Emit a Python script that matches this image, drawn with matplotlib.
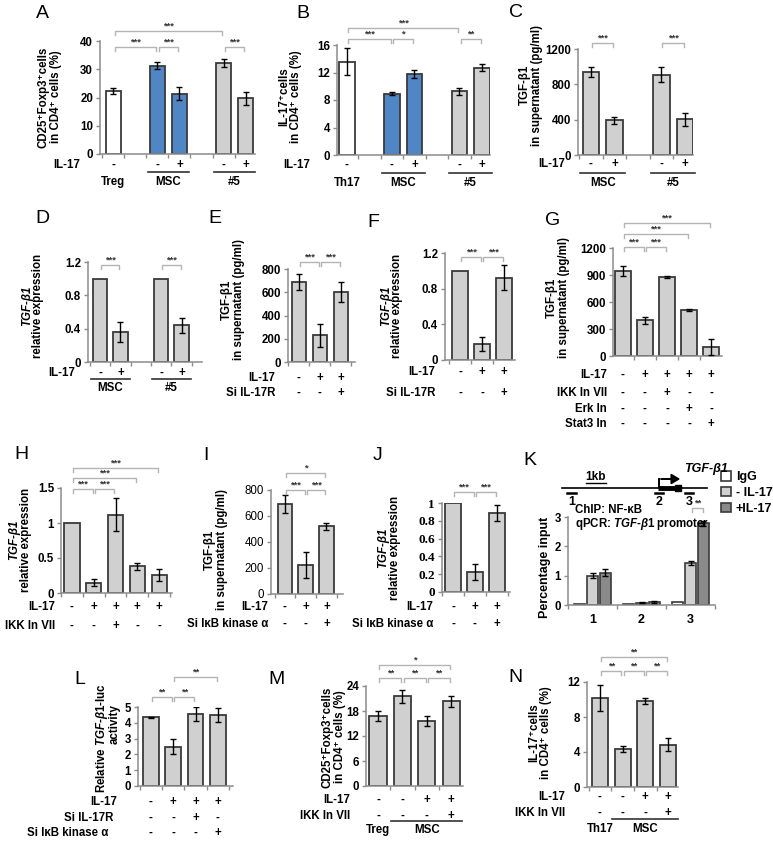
import numpy as np
import matplotlib.pyplot as plt
import matplotlib.transforms as mtransforms
from matplotlib.lines import Line2D

plt.rcParams['font.family'] = ['Liberation Sans', 'DejaVu Sans']
plt.rcParams['font.weight'] = 'bold'
plt.rcParams['mathtext.fontset'] = 'custom'
plt.rcParams['mathtext.rm'] = 'Liberation Sans:bold'
plt.rcParams['mathtext.it'] = 'Liberation Sans:italic:bold'
plt.rcParams['mathtext.bf'] = 'Liberation Sans:bold'

# ---------------- data ----------------
a_vals = [22.3, 31.3, 21.3, 32.3, 19.7]
a_errs = [1.0, 1.2, 2.3, 1.5, 2.2]
b_vals = [13.6, 8.9, 11.8, 9.3, 12.7]
b_errs = [2.0, 0.2, 0.6, 0.5, 0.5]
ab_il17 = ['-', '-', '+', '-', '+']

c_vals = [940, 395, 910, 405]
c_errs = [60, 40, 85, 75]
d_vals = [1.0, 0.36, 1.0, 0.44]
d_errs = [0, 0.12, 0, 0.09]
cd_il17 = ['-', '+', '-', '+']

e_vals = [690, 230, 600]
e_errs = [70, 100, 85]
f_vals = [1.0, 0.18, 0.92]
f_errs = [0, 0.08, 0.14]
ef_il17 = ['-', '+', '+']
ef_si17r = ['-', '-', '+']

g_vals = [945, 395, 875, 510, 100]
g_errs = [60, 40, 12, 8, 85]
g_il17 = ['-', '+', '+', '+', '+']
g_ikk = ['-', '-', '+', '-', '-']
g_erk = ['-', '-', '-', '+', '-']
g_stat3 = ['-', '-', '-', '-', '+']

h_vals = [1.0, 0.15, 1.12, 0.38, 0.26]
h_errs = [0, 0.05, 0.24, 0.05, 0.09]

i_vals = [690, 225, 520]
i_errs = [70, 100, 25]
j_vals = [1.0, 0.23, 0.89]
j_errs = [0, 0.09, 0.09]
ij_il17 = ['-', '+', '+']
ij_sikb = ['-', '-', '+']

k_sites = ['1', '2', '3']
k_igg = [0.05, 0.05, 0.1]
k_minus = [1.0, 0.08, 1.42]
k_minus_err = [0.08, 0.02, 0.07]
k_plus = [1.1, 0.1, 2.78]
k_plus_err = [0.12, 0.03, 0.1]

l_vals = [4.35, 2.5, 4.55, 4.5]
l_errs = [0.03, 0.45, 0.42, 0.45]
l_il17 = ['-', '+', '+', '+']
l_si17r = ['-', '-', '+', '-']
l_sikb = ['-', '-', '-', '+']

m_vals = [16.8, 21.5, 15.7, 20.3]
m_errs = [1.2, 1.5, 1.2, 1.4]
n_vals = [10.2, 4.3, 9.85, 4.85]
n_errs = [1.5, 0.35, 0.35, 0.7]
mn_il17 = ['-', '-', '+', '+']
mn_ikk = ['-', '-', '-', '+']

# ---------------- style ----------------
W, H = 773, 841
GRAY = '#d0d0d0'
BLUE = '#4f86c6'
DARK = '#8a8a8a'
EDGE = '#3a3a3a'
AXC = '#8c8c8c'
BRC = '#b4b4b4'
FS = 8.3

fig = plt.figure(figsize=(W / 100, H / 100), dpi=100)
ov = fig.add_axes([0, 0, 1, 1], zorder=10)
ov.set_xlim(0, W)
ov.set_ylim(H, 0)
ov.axis('off')


def make_ax(box, xlim, ylim, yticks, ytl=None):
    x0, x1, yt, yb = box
    ax = fig.add_axes([x0 / W, 1 - yb / H, (x1 - x0) / W, (yb - yt) / H])
    ax.set_facecolor('none')
    ax.set_xlim(*xlim)
    ax.set_ylim(*ylim)
    for s in ('top', 'right'):
        ax.spines[s].set_visible(False)
    for s in ('left', 'bottom'):
        ax.spines[s].set_color(AXC)
        ax.spines[s].set_linewidth(1.1)
    ax.set_yticks(yticks)
    if ytl is not None:
        ax.set_yticklabels(ytl)
    bounds = np.arange(np.ceil(xlim[0] - 0.5) + 0.5, xlim[1], 1.0)
    ax.set_xticks(bounds)
    ax.set_xticklabels([])
    ax.tick_params(axis='both', direction='out', length=3, width=1,
                   color=AXC, labelsize=8.3, pad=2)
    return ax


def draw_bars(ax, pos, vals, errs, colors, width=0.7):
    pos = np.asarray(pos, dtype=float)
    ax.bar(pos, vals, width, color=colors, edgecolor=EDGE, linewidth=1.3, zorder=2)
    e = np.asarray(errs, dtype=float)
    m = e > 0
    ax.errorbar(pos[m], np.asarray(vals, dtype=float)[m], yerr=e[m], fmt='none',
                ecolor='black', elinewidth=1, capsize=2.5, capthick=1, zorder=3)


def tr_of(ax):
    return mtransforms.blended_transform_factory(ax.transData, ov.transData)


def bracket(ax, xa, xb, y, label):
    tr = tr_of(ax)
    ov.add_line(Line2D([xa + 0.05, xa + 0.05, xb - 0.05, xb - 0.05], [y + 4, y, y, y + 4],
                       transform=tr, color=BRC, lw=1))
    ov.text((xa + xb) / 2, y - 0.5, label, transform=tr, ha='center', va='bottom',
            fontsize=6.8, color='#333333')


def row(ax, pos, syms, y, label, xlab):
    tr = tr_of(ax)
    for p, s in zip(pos, syms):
        ov.text(p, y, s, transform=tr, ha='center', va='center', fontsize=FS)
    ov.text(xlab, y, label, ha='right', va='center', fontsize=FS)


def group(ax, p0, p1, uy, ty, label, line=True):
    tr = tr_of(ax)
    if line:
        ov.add_line(Line2D([p0 - 0.45, p1 + 0.45], [uy, uy], transform=tr, color='#333333', lw=1.2))
    ov.text((p0 + p1) / 2, ty, label, transform=tr, ha='center', va='center', fontsize=FS)


def ylab(x, y, text, style='normal', size=FS):
    ov.text(x, y, text, rotation=90, ha='center', va='center', fontsize=size,
            multialignment='center', linespacing=1.05, style=style)


def letter(x, y, s):
    ov.text(x, y, s, ha='center', va='center', fontsize=14, fontweight='normal')


# ---------------- A ----------------
pa = [0, 2, 3, 5, 6]
axA = make_ax((100, 255, 41, 154), (-0.61, 6.43), (0, 40), [0, 10, 20, 30, 40])
draw_bars(axA, pa, a_vals, a_errs, ['white', BLUE, BLUE, GRAY, GRAY])
bracket(axA, 0, 2, 47, '***'); bracket(axA, 2, 3, 47, '***')
bracket(axA, 0, 5, 31, '***'); bracket(axA, 5, 6, 47, '***')
row(axA, pa, ab_il17, 165, 'IL-17', 80)
group(axA, 0, 0, 172, 182, 'Treg', line=False)
group(axA, 2, 3, 172, 182, 'MSC'); group(axA, 5, 6, 172, 182, '#5')
ylab(50, 97, 'CD25\u207aFoxp3\u207acells\nin CD4\u207a cells (%)')
letter(42, 13, 'A')

# ---------------- B ----------------
axB = make_ax((337, 490, 45, 155), (-0.44, 6.36), (0, 16), [0, 4, 8, 12, 16])
draw_bars(axB, pa, b_vals, b_errs, ['white', BLUE, BLUE, GRAY, GRAY])
bracket(axB, 0, 2, 39, '***'); bracket(axB, 2, 3, 39, '*')
bracket(axB, 0, 5, 28, '***'); bracket(axB, 5, 6, 39, '**')
row(axB, pa, ab_il17, 165, 'IL-17', 310)
group(axB, 0, 0, 173, 183, 'Th17', line=False)
group(axB, 2, 3, 173, 183, 'MSC'); group(axB, 5, 6, 173, 183, '#5')
ylab(290, 97, 'IL-17\u207acells\nin CD4\u207a cells (%)')
letter(303, 13, 'B')

# ---------------- C ----------------
pc = [0, 1, 3, 4]
axC = make_ax((578, 693, 49, 155), (-0.55, 4.35), (0, 1200), [0, 400, 800, 1200])
draw_bars(axC, pc, c_vals, c_errs, GRAY)
bracket(axC, 0, 1, 43, '***'); bracket(axC, 3, 4, 43, '***')
row(axC, pc, cd_il17, 164, 'IL-17', 565)
group(axC, 0, 1, 173, 183, 'MSC'); group(axC, 3, 4, 173, 183, '#5')
ylab(531, 85, 'TGF-\u03b21\nin supernatant (pg/ml)')
letter(516, 12, 'C')

# ---------------- D ----------------
axD = make_ax((88, 202, 262, 362), (-0.59, 5.0), (0, 1.2), [0, 0.4, 0.8, 1.2],
              ['0', '0.4', '0.8', '1.2'])
draw_bars(axD, pc, d_vals, d_errs, GRAY)
bracket(axD, 0, 1, 265, '***'); bracket(axD, 3, 4, 265, '***')
row(axD, pc, cd_il17, 373, 'IL-17', 75)
group(axD, 0, 1, 379, 388, 'MSC'); group(axD, 3, 4, 379, 388, '#5')
ylab(27, 306, 'TGF-\u03b21', style='italic')
ylab(38, 306, 'relative expression')
letter(42, 218, 'D')

# ---------------- E ----------------
p3 = [0, 1, 2]
axE = make_ax((288, 355, 269, 362), (-0.52, 2.67), (0, 800), [0, 200, 400, 600, 800])
draw_bars(axE, p3, e_vals, e_errs, GRAY)
bracket(axE, 0, 1, 262, '***'); bracket(axE, 1, 2, 262, '***')
row(axE, p3, ef_il17, 378, 'IL-17', 275)
row(axE, p3, ef_si17r, 393, 'Si IL-17R', 275)
ylab(233, 300, 'TGF-\u03b21\nin supernatant (pg/ml)')
letter(215, 218, 'E')

# ---------------- F ----------------
axF = make_ax((445, 515, 253, 360), (-0.68, 2.5), (0, 1.2), [0, 0.4, 0.8, 1.2],
              ['0', '0.4', '0.8', '1.2'])
draw_bars(axF, p3, f_vals, f_errs, GRAY)
bracket(axF, 0, 1, 257, '***'); bracket(axF, 1, 2, 257, '***')
row(axF, p3, ef_il17, 372, 'IL-17', 435)
row(axF, p3, ef_si17r, 393, 'Si IL-17R', 435)
ylab(386, 306, 'TGF-\u03b21', style='italic')
ylab(397, 306, 'relative expression')
letter(373, 222, 'F')

# ---------------- G ----------------
p5 = [0, 1, 2, 3, 4]
axG = make_ax((613, 722, 248, 356), (-0.45, 4.5), (0, 1200), [0, 300, 600, 900, 1200])
draw_bars(axG, p5, g_vals, g_errs, GRAY)
bracket(axG, 0, 1, 247, '***'); bracket(axG, 1, 2, 247, '***')
bracket(axG, 0, 3, 234, '***'); bracket(axG, 0, 4, 223, '***')
row(axG, p5, g_il17, 375, 'IL-17', 607)
row(axG, p5, g_ikk, 393, 'IKK In VII', 607)
row(axG, p5, g_erk, 409, 'Erk In', 607)
row(axG, p5, g_stat3, 424, 'Stat3 In', 607)
ylab(558, 298, 'TGF-\u03b21\nin supernatant (pg/ml)')
letter(553, 220, 'G')

# ---------------- H ----------------
axH = make_ax((61, 172, 488, 593), (-0.5, 4.59), (0, 1.5), [0, 0.5, 1, 1.5],
              ['0', '0.5', '1', '1.5'])
draw_bars(axH, p5, h_vals, h_errs, GRAY)
bracket(axH, 0, 1, 489, '***'); bracket(axH, 1, 2, 489, '***')
bracket(axH, 0, 3, 478, '***'); bracket(axH, 0, 4, 468, '***')
row(axH, p5, g_il17, 607, 'IL-17', 55)
row(axH, p5, g_ikk, 626, 'IKK In VII', 55)
ylab(14, 540, 'TGF-\u03b21', style='italic')
ylab(26, 540, 'relative expression')
letter(21, 454, 'H')

# ---------------- I ----------------
axI = make_ax((271, 343, 490, 594), (-0.67, 2.8), (0, 800), [0, 200, 400, 600, 800])
for t in axI.get_yticklabels():
    t.set_fontweight('normal')
draw_bars(axI, p3, i_vals, i_errs, GRAY)
bracket(axI, 0, 1, 490, '***'); bracket(axI, 1, 2, 490, '***')
bracket(axI, 0, 2, 473, '*')
row(axI, p3, ij_il17, 607, 'IL-17', 268)
row(axI, p3, ij_sikb, 624, 'Si I\u03baB kinase \u03b1', 268)
ylab(216, 550, 'TGF-\u03b21\nin supernatant (pg/ml)')
letter(206, 455, 'I')

# ---------------- J ----------------
axJ = make_ax((442, 510, 503, 592), (-0.5, 2.6), (0, 1), [0, 0.2, 0.4, 0.6, 0.8, 1],
              ['0', '0.2', '0.4', '0.6', '0.8', '1'])
for t in axJ.get_yticklabels():
    t.set_fontfamily('Liberation Serif')
    t.set_fontsize(9.5)
draw_bars(axJ, p3, j_vals, j_errs, GRAY)
bracket(axJ, 0, 1, 492, '***'); bracket(axJ, 1, 2, 492, '***')
row(axJ, p3, ij_il17, 607, 'IL-17', 433)
row(axJ, p3, ij_sikb, 624, 'Si I\u03baB kinase \u03b1', 433)
ylab(383, 548, 'TGF-\u03b21', style='italic')
ylab(395, 548, 'relative expression')
letter(378, 455, 'J')

# ---------------- K ----------------
gap = 3.82
kc = np.arange(len(k_sites)) * gap
axK = make_ax((568, 715, 517, 605), (-1.57, 8.93), (0, 3), [0, 1, 2, 3])
axK.set_xticks(np.concatenate([[-gap / 2], kc + gap / 2]))
hb1 = axK.bar(kc - 1, k_igg, 0.85, color='white', edgecolor=EDGE, linewidth=1.2, zorder=2)
hb2 = axK.bar(kc, k_minus, 0.85, color=GRAY, edgecolor=EDGE, linewidth=1.2, zorder=2)
hb3 = axK.bar(kc + 1, k_plus, 0.85, color=DARK, edgecolor=EDGE, linewidth=1.2, zorder=2)
axK.errorbar(kc, k_minus, yerr=k_minus_err, fmt='none', ecolor='black',
             elinewidth=1, capsize=2.5, capthick=1, zorder=3)
axK.errorbar(kc + 1, k_plus, yerr=k_plus_err, fmt='none', ecolor='black',
             elinewidth=1, capsize=2.5, capthick=1, zorder=3)
bracket(axK, kc[2] + 0.1, kc[2] + 1, 508, '**')
for c, s in zip(kc, k_sites):
    ov.text(c, 620, s, transform=tr_of(axK), ha='center', va='center', fontsize=9)
ylab(545, 567, 'Percentage input', size=9)
ov.text(575, 510, 'ChIP: NF-\u03baB', ha='left', va='center', fontsize=8.3)
ov.text(575, 524, r'qPCR: $\mathit{TGF}$-$\mathit{\beta 1}$ promoter', ha='left',
        va='center', fontsize=8.3)
axK.legend([hb1, hb2, hb3], ['IgG', '- IL-17', '+IL-17'], loc='upper left',
           bbox_to_anchor=(716, 466), bbox_transform=ov.transData, frameon=False,
           handlelength=0.8, handleheight=0.8, handletextpad=0.4, labelspacing=0.3,
           borderaxespad=0, prop={'size': 9, 'weight': 'bold'})
# promoter schematic
ov.plot([562, 707], [488, 488], color='black', lw=1.2)
ov.plot([658, 676], [488, 488], color='black', lw=3.5, solid_capstyle='butt')
ov.plot([678], [488], marker='s', ms=5, color='black')
ov.plot([659, 659], [487, 479], color='black', lw=1.4)
ov.annotate('', xy=(683, 479), xytext=(658.3, 479),
            arrowprops=dict(arrowstyle='-|>,head_length=0.5,head_width=0.3', color='black', lw=1.4))
ov.text(684, 469, 'TGF-\u03b21', style='italic', ha='left', va='center', fontsize=9)
ov.text(596, 477, '1kb', ha='center', va='center', fontsize=8.5)
ov.plot([586, 606], [483, 483], color='black', lw=1)
for xa, xb, lab in [(567, 576, '1'), (655, 663, '2'), (685, 693, '3')]:
    ov.plot([xa, xb], [493, 493], color='black', lw=1.8)
    ov.text((xa + xb) / 2, 502, lab, ha='center', va='center', fontsize=9)
letter(530, 460, 'K')

# ---------------- L ----------------
p4 = [0, 1, 2, 3]
axL = make_ax((138, 233, 707, 786), (-0.58, 3.68), (0, 5), [0, 1, 2, 3, 4, 5])
draw_bars(axL, p4, l_vals, l_errs, GRAY)
bracket(axL, 0, 1, 697, '**'); bracket(axL, 1, 2, 697, '**')
bracket(axL, 1, 3, 677, '**')
row(axL, p4, l_il17, 802, 'IL-17', 117)
row(axL, p4, l_si17r, 818, 'Si IL-17R', 113)
row(axL, p4, l_sikb, 833, 'Si I\u03baB kinase \u03b1', 108)
ylab(102, 738, r'Relative $\mathit{TGF}$-$\mathit{\beta 1}$-luc')
ylab(115, 724, 'activity')
letter(80, 680, 'L')

# ---------------- M ----------------
axM = make_ax((366, 463, 686, 786), (-0.49, 3.48), (0, 24), [0, 6, 12, 18, 24])
draw_bars(axM, p4, m_vals, m_errs, GRAY)
bracket(axM, 0, 1, 678, '**'); bracket(axM, 1, 2, 678, '**'); bracket(axM, 2, 3, 678, '**')
bracket(axM, 0, 3, 665, '*')
row(axM, p4, mn_il17, 800, 'IL-17', 350)
row(axM, p4, mn_ikk, 816, 'IKK In VII', 350)
group(axM, 0, 0, 821, 830, 'Treg', line=False)
group(axM, 1, 3, 821, 830, 'MSC')
ylab(334, 737, 'CD25\u207aFoxp3\u207acells\nin CD4\u207a cells (%)')
letter(277, 680, 'M')

# ---------------- N ----------------
axN = make_ax((587, 678, 682, 787), (-0.57, 3.44), (0, 12), [0, 4, 8, 12])
draw_bars(axN, p4, n_vals, n_errs, GRAY)
bracket(axN, 0, 1, 671, '**'); bracket(axN, 1, 2, 671, '**'); bracket(axN, 2, 3, 671, '**')
bracket(axN, 0, 3, 657, '**')
row(axN, p4, mn_il17, 797, 'IL-17', 565)
row(axN, p4, mn_ikk, 813, 'IKK In VII', 565)
group(axN, 0, 0, 819, 829, 'Th17', line=False)
group(axN, 1, 3, 819, 829, 'MSC')
ylab(540, 733, 'IL-17\u207acells\nin CD4\u207a cells (%)')
letter(515, 678, 'N')

fig.savefig('out.png', dpi=100)
